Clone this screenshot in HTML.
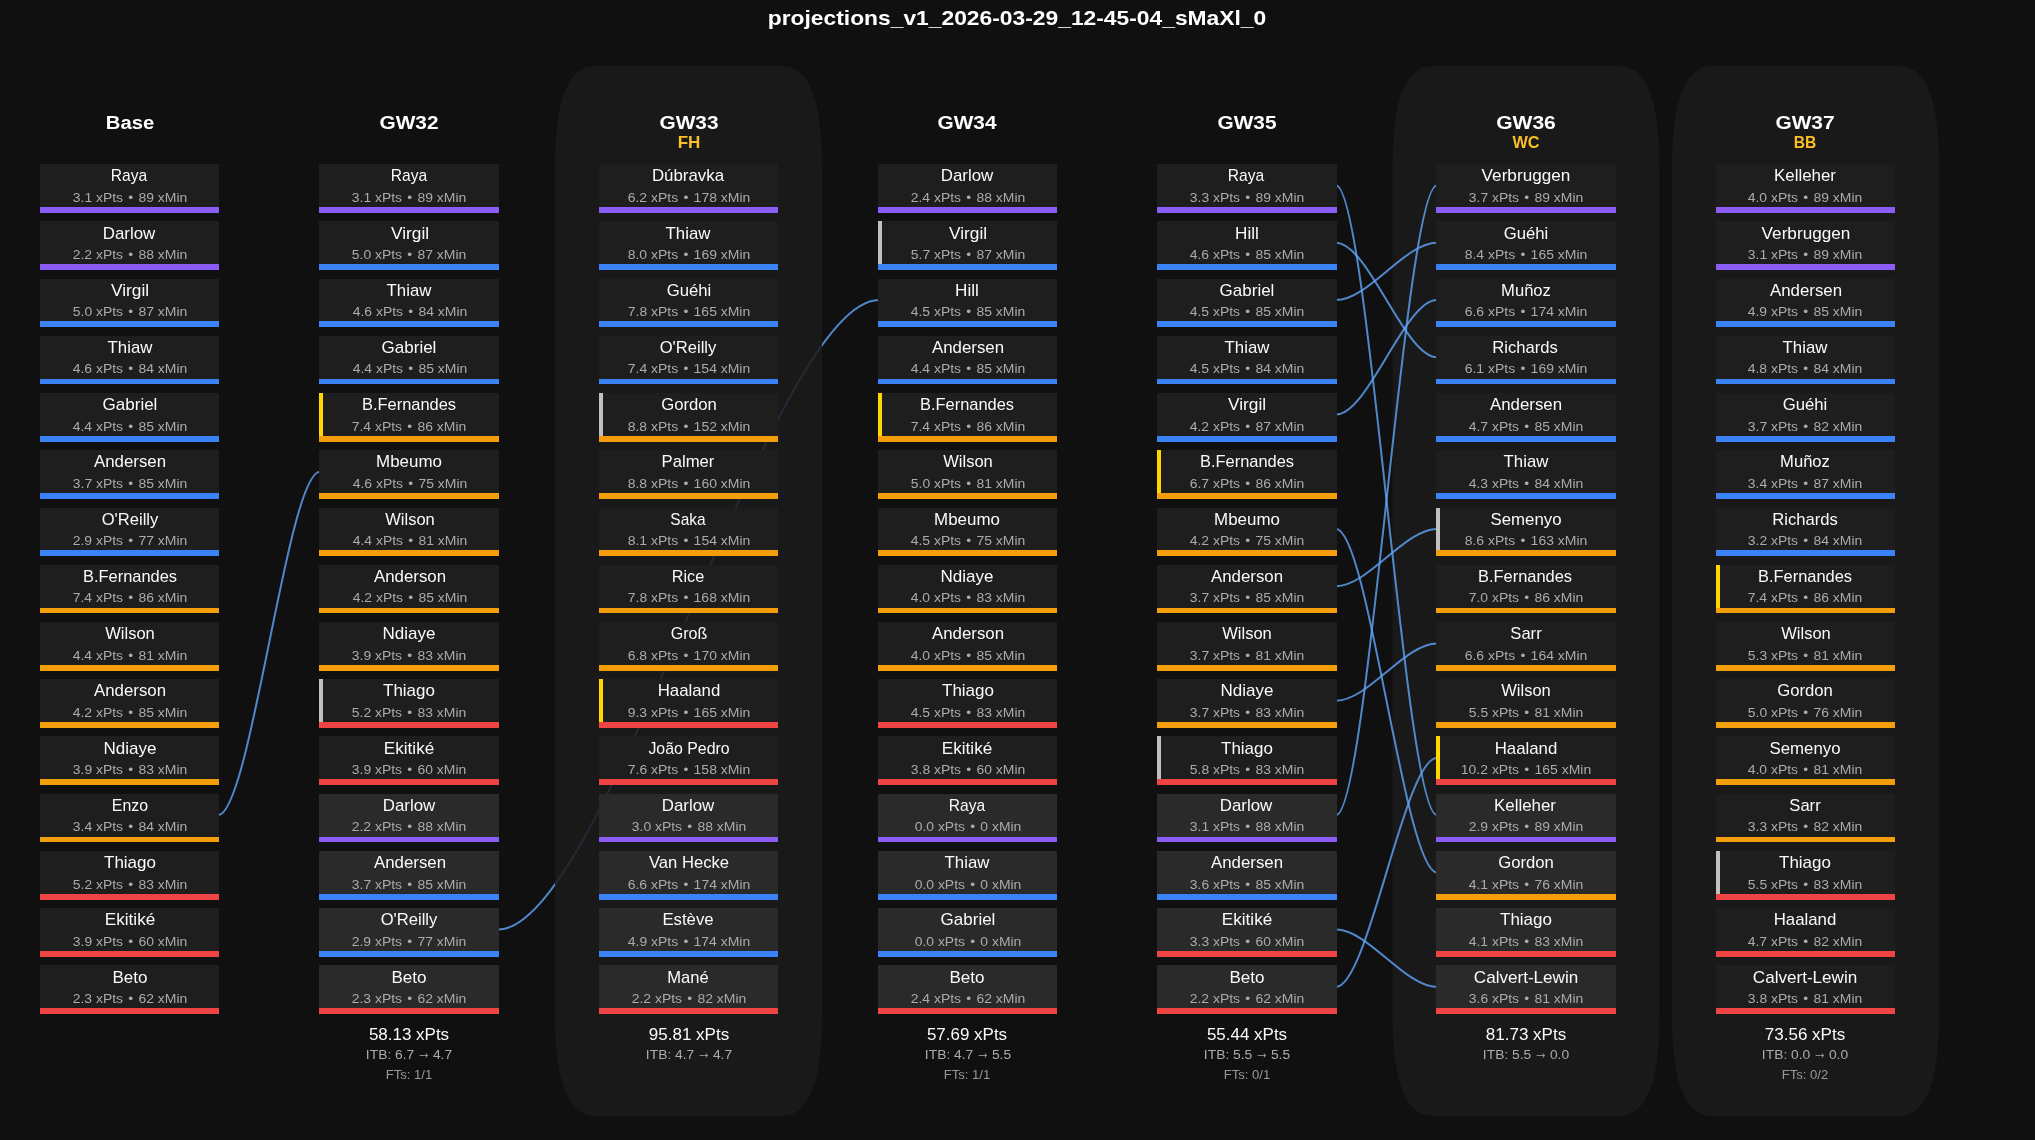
<!DOCTYPE html>
<html lang="en"><head><meta charset="utf-8"><title>projections_v1_2026-03-29_12-45-04_sMaXl_0</title>
<style>
html,body{margin:0;padding:0;background:#101010;}
body{width:2035px;height:1140px;overflow:hidden;font-family:"Liberation Sans",sans-serif;}
#fig{position:relative;width:2035px;height:1140px;background:#101010;overflow:hidden;}
svg.layer{position:absolute;left:0;top:0;}
#txt{position:absolute;left:0;top:0;width:2035px;height:1140px;will-change:transform;}
.t{position:absolute;white-space:nowrap;line-height:1;transform:translateX(-50%);}
.t>span{display:inline-block;transform-origin:50% 50%;}
.bu{margin:0 0.1em;}
.ar{display:inline-block;margin:0 -0.105em;transform:translateY(-0.15em) scale(1.02,1.45);}
.title{font-weight:bold;color:#ffffff;font-size:20.6px;}
.hdr{font-weight:bold;color:#ffffff;font-size:19.1px;}
.chip{font-weight:bold;color:#fbbf24;font-size:16.2px;}
.name{color:#fafafa;font-size:16.2px;}
.stat{color:#ababab;font-size:13.25px;}
.fx{color:#fafafa;font-size:16.2px;}
.fi{color:#ababab;font-size:13.25px;}
.ft{color:#999999;font-size:13.25px;}

</style></head><body><div id="fig">
<svg class="layer" width="2035" height="1140" viewBox="0 0 2035 1140">
<g fill="none" stroke="#60a5fa" stroke-opacity="0.8" stroke-width="2" stroke-linecap="butt">
<path d="M498.0 929.6 C605.9 929.6 771.1 300.1 879.0 300.1"/>
</g>
<g fill="#1b1b1b" fill-opacity="0.855">
<path d="M595.0 66.0 L782.0 66.0 Q822.0 66.0 822.0 166.0 L822.0 1016.0 Q822.0 1116.0 782.0 1116.0 L595.0 1116.0 Q555.0 1116.0 555.0 1016.0 L555.0 166.0 Q555.0 66.0 595.0 66.0 Z"/>
<path d="M1432.5 66.0 L1619.5 66.0 Q1659.5 66.0 1659.5 166.0 L1659.5 1016.0 Q1659.5 1116.0 1619.5 1116.0 L1432.5 1116.0 Q1392.5 1116.0 1392.5 1016.0 L1392.5 166.0 Q1392.5 66.0 1432.5 66.0 Z"/>
<path d="M1712.0 66.0 L1899.0 66.0 Q1939.0 66.0 1939.0 166.0 L1939.0 1016.0 Q1939.0 1116.0 1899.0 1116.0 L1712.0 1116.0 Q1672.0 1116.0 1672.0 1016.0 L1672.0 166.0 Q1672.0 66.0 1712.0 66.0 Z"/>
</g>
<g fill="none" stroke="#60a5fa" stroke-opacity="0.8" stroke-width="2" stroke-linecap="butt">
<path d="M218.0 815.2 C250.5 815.2 287.5 471.8 320.0 471.8"/>
<path d="M1336.0 185.6 C1368.3 185.6 1404.7 815.2 1437.0 815.2"/>
<path d="M1336.0 242.8 C1368.3 242.8 1404.7 357.3 1437.0 357.3"/>
<path d="M1336.0 300.1 C1368.3 300.1 1404.7 242.8 1437.0 242.8"/>
<path d="M1336.0 414.5 C1368.3 414.5 1404.7 300.1 1437.0 300.1"/>
<path d="M1336.0 529.0 C1368.3 529.0 1404.7 872.4 1437.0 872.4"/>
<path d="M1336.0 586.2 C1368.3 586.2 1404.7 529.0 1437.0 529.0"/>
<path d="M1336.0 700.7 C1368.3 700.7 1404.7 643.5 1437.0 643.5"/>
<path d="M1336.0 815.2 C1368.3 815.2 1404.7 185.6 1437.0 185.6"/>
<path d="M1336.0 929.6 C1368.3 929.6 1404.7 986.9 1437.0 986.9"/>
<path d="M1336.0 986.9 C1368.3 986.9 1404.7 757.9 1437.0 757.9"/>
</g></svg>
<svg class="layer" width="2035" height="1140" viewBox="0 0 2035 1140">
<rect x="40" y="164" width="179" height="49" fill="#1e1e1e"/>
<rect x="40" y="207" width="179" height="6" fill="#8b5cf6"/>
<rect x="40" y="221" width="179" height="49" fill="#1e1e1e"/>
<rect x="40" y="264" width="179" height="6" fill="#8b5cf6"/>
<rect x="40" y="279" width="179" height="48" fill="#1e1e1e"/>
<rect x="40" y="321" width="179" height="6" fill="#3b82f6"/>
<rect x="40" y="336" width="179" height="48" fill="#1e1e1e"/>
<rect x="40" y="379" width="179" height="5" fill="#3b82f6"/>
<rect x="40" y="393" width="179" height="49" fill="#1e1e1e"/>
<rect x="40" y="436" width="179" height="6" fill="#3b82f6"/>
<rect x="40" y="450" width="179" height="49" fill="#1e1e1e"/>
<rect x="40" y="493" width="179" height="6" fill="#3b82f6"/>
<rect x="40" y="508" width="179" height="48" fill="#1e1e1e"/>
<rect x="40" y="550" width="179" height="6" fill="#3b82f6"/>
<rect x="40" y="565" width="179" height="48" fill="#1e1e1e"/>
<rect x="40" y="608" width="179" height="5" fill="#f59e0b"/>
<rect x="40" y="622" width="179" height="49" fill="#1e1e1e"/>
<rect x="40" y="665" width="179" height="6" fill="#f59e0b"/>
<rect x="40" y="679" width="179" height="49" fill="#1e1e1e"/>
<rect x="40" y="722" width="179" height="6" fill="#f59e0b"/>
<rect x="40" y="736" width="179" height="49" fill="#1e1e1e"/>
<rect x="40" y="779" width="179" height="6" fill="#f59e0b"/>
<rect x="40" y="794" width="179" height="48" fill="#1e1e1e"/>
<rect x="40" y="837" width="179" height="5" fill="#f59e0b"/>
<rect x="40" y="851" width="179" height="49" fill="#1e1e1e"/>
<rect x="40" y="894" width="179" height="6" fill="#ef4444"/>
<rect x="40" y="908" width="179" height="49" fill="#1e1e1e"/>
<rect x="40" y="951" width="179" height="6" fill="#ef4444"/>
<rect x="40" y="965" width="179" height="49" fill="#1e1e1e"/>
<rect x="40" y="1008" width="179" height="6" fill="#ef4444"/>
<rect x="319" y="164" width="180" height="49" fill="#1e1e1e"/>
<rect x="319" y="207" width="180" height="6" fill="#8b5cf6"/>
<rect x="319" y="221" width="180" height="49" fill="#1e1e1e"/>
<rect x="319" y="264" width="180" height="6" fill="#3b82f6"/>
<rect x="319" y="279" width="180" height="48" fill="#1e1e1e"/>
<rect x="319" y="321" width="180" height="6" fill="#3b82f6"/>
<rect x="319" y="336" width="180" height="48" fill="#1e1e1e"/>
<rect x="319" y="379" width="180" height="5" fill="#3b82f6"/>
<rect x="319" y="393" width="180" height="49" fill="#1e1e1e"/>
<rect x="319" y="436" width="180" height="6" fill="#f59e0b"/>
<rect x="319" y="393" width="4" height="43" fill="#ffd700"/>
<rect x="319" y="450" width="180" height="49" fill="#1e1e1e"/>
<rect x="319" y="493" width="180" height="6" fill="#f59e0b"/>
<rect x="319" y="508" width="180" height="48" fill="#1e1e1e"/>
<rect x="319" y="550" width="180" height="6" fill="#f59e0b"/>
<rect x="319" y="565" width="180" height="48" fill="#1e1e1e"/>
<rect x="319" y="608" width="180" height="5" fill="#f59e0b"/>
<rect x="319" y="622" width="180" height="49" fill="#1e1e1e"/>
<rect x="319" y="665" width="180" height="6" fill="#f59e0b"/>
<rect x="319" y="679" width="180" height="49" fill="#1e1e1e"/>
<rect x="319" y="722" width="180" height="6" fill="#ef4444"/>
<rect x="319" y="679" width="4" height="43" fill="#c0c0c0"/>
<rect x="319" y="736" width="180" height="49" fill="#1e1e1e"/>
<rect x="319" y="779" width="180" height="6" fill="#ef4444"/>
<rect x="319" y="794" width="180" height="48" fill="#2a2a2a"/>
<rect x="319" y="837" width="180" height="5" fill="#8b5cf6"/>
<rect x="319" y="851" width="180" height="49" fill="#2a2a2a"/>
<rect x="319" y="894" width="180" height="6" fill="#3b82f6"/>
<rect x="319" y="908" width="180" height="49" fill="#2a2a2a"/>
<rect x="319" y="951" width="180" height="6" fill="#3b82f6"/>
<rect x="319" y="965" width="180" height="49" fill="#2a2a2a"/>
<rect x="319" y="1008" width="180" height="6" fill="#ef4444"/>
<rect x="599" y="164" width="179" height="49" fill="#1e1e1e"/>
<rect x="599" y="207" width="179" height="6" fill="#8b5cf6"/>
<rect x="599" y="221" width="179" height="49" fill="#1e1e1e"/>
<rect x="599" y="264" width="179" height="6" fill="#3b82f6"/>
<rect x="599" y="279" width="179" height="48" fill="#1e1e1e"/>
<rect x="599" y="321" width="179" height="6" fill="#3b82f6"/>
<rect x="599" y="336" width="179" height="48" fill="#1e1e1e"/>
<rect x="599" y="379" width="179" height="5" fill="#3b82f6"/>
<rect x="599" y="393" width="179" height="49" fill="#1e1e1e"/>
<rect x="599" y="436" width="179" height="6" fill="#f59e0b"/>
<rect x="599" y="393" width="4" height="43" fill="#c0c0c0"/>
<rect x="599" y="450" width="179" height="49" fill="#1e1e1e"/>
<rect x="599" y="493" width="179" height="6" fill="#f59e0b"/>
<rect x="599" y="508" width="179" height="48" fill="#1e1e1e"/>
<rect x="599" y="550" width="179" height="6" fill="#f59e0b"/>
<rect x="599" y="565" width="179" height="48" fill="#1e1e1e"/>
<rect x="599" y="608" width="179" height="5" fill="#f59e0b"/>
<rect x="599" y="622" width="179" height="49" fill="#1e1e1e"/>
<rect x="599" y="665" width="179" height="6" fill="#f59e0b"/>
<rect x="599" y="679" width="179" height="49" fill="#1e1e1e"/>
<rect x="599" y="722" width="179" height="6" fill="#ef4444"/>
<rect x="599" y="679" width="4" height="43" fill="#ffd700"/>
<rect x="599" y="736" width="179" height="49" fill="#1e1e1e"/>
<rect x="599" y="779" width="179" height="6" fill="#ef4444"/>
<rect x="599" y="794" width="179" height="48" fill="#2a2a2a"/>
<rect x="599" y="837" width="179" height="5" fill="#8b5cf6"/>
<rect x="599" y="851" width="179" height="49" fill="#2a2a2a"/>
<rect x="599" y="894" width="179" height="6" fill="#3b82f6"/>
<rect x="599" y="908" width="179" height="49" fill="#2a2a2a"/>
<rect x="599" y="951" width="179" height="6" fill="#3b82f6"/>
<rect x="599" y="965" width="179" height="49" fill="#2a2a2a"/>
<rect x="599" y="1008" width="179" height="6" fill="#ef4444"/>
<rect x="878" y="164" width="179" height="49" fill="#1e1e1e"/>
<rect x="878" y="207" width="179" height="6" fill="#8b5cf6"/>
<rect x="878" y="221" width="179" height="49" fill="#1e1e1e"/>
<rect x="878" y="264" width="179" height="6" fill="#3b82f6"/>
<rect x="878" y="221" width="4" height="43" fill="#c0c0c0"/>
<rect x="878" y="279" width="179" height="48" fill="#1e1e1e"/>
<rect x="878" y="321" width="179" height="6" fill="#3b82f6"/>
<rect x="878" y="336" width="179" height="48" fill="#1e1e1e"/>
<rect x="878" y="379" width="179" height="5" fill="#3b82f6"/>
<rect x="878" y="393" width="179" height="49" fill="#1e1e1e"/>
<rect x="878" y="436" width="179" height="6" fill="#f59e0b"/>
<rect x="878" y="393" width="4" height="43" fill="#ffd700"/>
<rect x="878" y="450" width="179" height="49" fill="#1e1e1e"/>
<rect x="878" y="493" width="179" height="6" fill="#f59e0b"/>
<rect x="878" y="508" width="179" height="48" fill="#1e1e1e"/>
<rect x="878" y="550" width="179" height="6" fill="#f59e0b"/>
<rect x="878" y="565" width="179" height="48" fill="#1e1e1e"/>
<rect x="878" y="608" width="179" height="5" fill="#f59e0b"/>
<rect x="878" y="622" width="179" height="49" fill="#1e1e1e"/>
<rect x="878" y="665" width="179" height="6" fill="#f59e0b"/>
<rect x="878" y="679" width="179" height="49" fill="#1e1e1e"/>
<rect x="878" y="722" width="179" height="6" fill="#ef4444"/>
<rect x="878" y="736" width="179" height="49" fill="#1e1e1e"/>
<rect x="878" y="779" width="179" height="6" fill="#ef4444"/>
<rect x="878" y="794" width="179" height="48" fill="#2a2a2a"/>
<rect x="878" y="837" width="179" height="5" fill="#8b5cf6"/>
<rect x="878" y="851" width="179" height="49" fill="#2a2a2a"/>
<rect x="878" y="894" width="179" height="6" fill="#3b82f6"/>
<rect x="878" y="908" width="179" height="49" fill="#2a2a2a"/>
<rect x="878" y="951" width="179" height="6" fill="#3b82f6"/>
<rect x="878" y="965" width="179" height="49" fill="#2a2a2a"/>
<rect x="878" y="1008" width="179" height="6" fill="#ef4444"/>
<rect x="1157" y="164" width="180" height="49" fill="#1e1e1e"/>
<rect x="1157" y="207" width="180" height="6" fill="#8b5cf6"/>
<rect x="1157" y="221" width="180" height="49" fill="#1e1e1e"/>
<rect x="1157" y="264" width="180" height="6" fill="#3b82f6"/>
<rect x="1157" y="279" width="180" height="48" fill="#1e1e1e"/>
<rect x="1157" y="321" width="180" height="6" fill="#3b82f6"/>
<rect x="1157" y="336" width="180" height="48" fill="#1e1e1e"/>
<rect x="1157" y="379" width="180" height="5" fill="#3b82f6"/>
<rect x="1157" y="393" width="180" height="49" fill="#1e1e1e"/>
<rect x="1157" y="436" width="180" height="6" fill="#3b82f6"/>
<rect x="1157" y="450" width="180" height="49" fill="#1e1e1e"/>
<rect x="1157" y="493" width="180" height="6" fill="#f59e0b"/>
<rect x="1157" y="450" width="4" height="43" fill="#ffd700"/>
<rect x="1157" y="508" width="180" height="48" fill="#1e1e1e"/>
<rect x="1157" y="550" width="180" height="6" fill="#f59e0b"/>
<rect x="1157" y="565" width="180" height="48" fill="#1e1e1e"/>
<rect x="1157" y="608" width="180" height="5" fill="#f59e0b"/>
<rect x="1157" y="622" width="180" height="49" fill="#1e1e1e"/>
<rect x="1157" y="665" width="180" height="6" fill="#f59e0b"/>
<rect x="1157" y="679" width="180" height="49" fill="#1e1e1e"/>
<rect x="1157" y="722" width="180" height="6" fill="#f59e0b"/>
<rect x="1157" y="736" width="180" height="49" fill="#1e1e1e"/>
<rect x="1157" y="779" width="180" height="6" fill="#ef4444"/>
<rect x="1157" y="736" width="4" height="43" fill="#c0c0c0"/>
<rect x="1157" y="794" width="180" height="48" fill="#2a2a2a"/>
<rect x="1157" y="837" width="180" height="5" fill="#8b5cf6"/>
<rect x="1157" y="851" width="180" height="49" fill="#2a2a2a"/>
<rect x="1157" y="894" width="180" height="6" fill="#3b82f6"/>
<rect x="1157" y="908" width="180" height="49" fill="#2a2a2a"/>
<rect x="1157" y="951" width="180" height="6" fill="#ef4444"/>
<rect x="1157" y="965" width="180" height="49" fill="#2a2a2a"/>
<rect x="1157" y="1008" width="180" height="6" fill="#ef4444"/>
<rect x="1436" y="164" width="180" height="49" fill="#1e1e1e"/>
<rect x="1436" y="207" width="180" height="6" fill="#8b5cf6"/>
<rect x="1436" y="221" width="180" height="49" fill="#1e1e1e"/>
<rect x="1436" y="264" width="180" height="6" fill="#3b82f6"/>
<rect x="1436" y="279" width="180" height="48" fill="#1e1e1e"/>
<rect x="1436" y="321" width="180" height="6" fill="#3b82f6"/>
<rect x="1436" y="336" width="180" height="48" fill="#1e1e1e"/>
<rect x="1436" y="379" width="180" height="5" fill="#3b82f6"/>
<rect x="1436" y="393" width="180" height="49" fill="#1e1e1e"/>
<rect x="1436" y="436" width="180" height="6" fill="#3b82f6"/>
<rect x="1436" y="450" width="180" height="49" fill="#1e1e1e"/>
<rect x="1436" y="493" width="180" height="6" fill="#3b82f6"/>
<rect x="1436" y="508" width="180" height="48" fill="#1e1e1e"/>
<rect x="1436" y="550" width="180" height="6" fill="#f59e0b"/>
<rect x="1436" y="508" width="4" height="42" fill="#c0c0c0"/>
<rect x="1436" y="565" width="180" height="48" fill="#1e1e1e"/>
<rect x="1436" y="608" width="180" height="5" fill="#f59e0b"/>
<rect x="1436" y="622" width="180" height="49" fill="#1e1e1e"/>
<rect x="1436" y="665" width="180" height="6" fill="#f59e0b"/>
<rect x="1436" y="679" width="180" height="49" fill="#1e1e1e"/>
<rect x="1436" y="722" width="180" height="6" fill="#f59e0b"/>
<rect x="1436" y="736" width="180" height="49" fill="#1e1e1e"/>
<rect x="1436" y="779" width="180" height="6" fill="#ef4444"/>
<rect x="1436" y="736" width="4" height="43" fill="#ffd700"/>
<rect x="1436" y="794" width="180" height="48" fill="#2a2a2a"/>
<rect x="1436" y="837" width="180" height="5" fill="#8b5cf6"/>
<rect x="1436" y="851" width="180" height="49" fill="#2a2a2a"/>
<rect x="1436" y="894" width="180" height="6" fill="#f59e0b"/>
<rect x="1436" y="908" width="180" height="49" fill="#2a2a2a"/>
<rect x="1436" y="951" width="180" height="6" fill="#ef4444"/>
<rect x="1436" y="965" width="180" height="49" fill="#2a2a2a"/>
<rect x="1436" y="1008" width="180" height="6" fill="#ef4444"/>
<rect x="1716" y="164" width="179" height="49" fill="#1e1e1e"/>
<rect x="1716" y="207" width="179" height="6" fill="#8b5cf6"/>
<rect x="1716" y="221" width="179" height="49" fill="#1e1e1e"/>
<rect x="1716" y="264" width="179" height="6" fill="#8b5cf6"/>
<rect x="1716" y="279" width="179" height="48" fill="#1e1e1e"/>
<rect x="1716" y="321" width="179" height="6" fill="#3b82f6"/>
<rect x="1716" y="336" width="179" height="48" fill="#1e1e1e"/>
<rect x="1716" y="379" width="179" height="5" fill="#3b82f6"/>
<rect x="1716" y="393" width="179" height="49" fill="#1e1e1e"/>
<rect x="1716" y="436" width="179" height="6" fill="#3b82f6"/>
<rect x="1716" y="450" width="179" height="49" fill="#1e1e1e"/>
<rect x="1716" y="493" width="179" height="6" fill="#3b82f6"/>
<rect x="1716" y="508" width="179" height="48" fill="#1e1e1e"/>
<rect x="1716" y="550" width="179" height="6" fill="#3b82f6"/>
<rect x="1716" y="565" width="179" height="48" fill="#1e1e1e"/>
<rect x="1716" y="608" width="179" height="5" fill="#f59e0b"/>
<rect x="1716" y="565" width="4" height="43" fill="#ffd700"/>
<rect x="1716" y="622" width="179" height="49" fill="#1e1e1e"/>
<rect x="1716" y="665" width="179" height="6" fill="#f59e0b"/>
<rect x="1716" y="679" width="179" height="49" fill="#1e1e1e"/>
<rect x="1716" y="722" width="179" height="6" fill="#f59e0b"/>
<rect x="1716" y="736" width="179" height="49" fill="#1e1e1e"/>
<rect x="1716" y="779" width="179" height="6" fill="#f59e0b"/>
<rect x="1716" y="794" width="179" height="48" fill="#1e1e1e"/>
<rect x="1716" y="837" width="179" height="5" fill="#f59e0b"/>
<rect x="1716" y="851" width="179" height="49" fill="#1e1e1e"/>
<rect x="1716" y="894" width="179" height="6" fill="#ef4444"/>
<rect x="1716" y="851" width="4" height="43" fill="#c0c0c0"/>
<rect x="1716" y="908" width="179" height="49" fill="#1e1e1e"/>
<rect x="1716" y="951" width="179" height="6" fill="#ef4444"/>
<rect x="1716" y="965" width="179" height="49" fill="#1e1e1e"/>
<rect x="1716" y="1008" width="179" height="6" fill="#ef4444"/>
</svg>
<div id="txt">
<div class="t title" style="left:1017.25px;top:7.56px;"><span style="transform:scaleX(1.1080)">projections_v1_2026-03-29_12-45-04_sMaXl_0</span></div>
<div class="t hdr" style="left:129.60px;top:112.83px;"><span style="transform:scaleX(1.0609)">Base</span></div>
<div class="t name" style="left:129.27px;top:167.29px;"><span style="transform:scaleX(0.9619)">Raya</span></div>
<div class="t stat" style="left:130.07px;top:190.78px;"><span style="transform:scaleX(1.0509)">3.1 xPts <span class="bu">•</span> 89 xMin</span></div>
<div class="t name" style="left:129.20px;top:225.29px;"><span style="transform:scaleX(1.0441)">Darlow</span></div>
<div class="t stat" style="left:130.01px;top:247.78px;"><span style="transform:scaleX(1.0522)">2.2 xPts <span class="bu">•</span> 88 xMin</span></div>
<div class="t name" style="left:130.42px;top:282.29px;"><span style="transform:scaleX(1.0690)">Virgil</span></div>
<div class="t stat" style="left:130.07px;top:304.78px;"><span style="transform:scaleX(1.0509)">5.0 xPts <span class="bu">•</span> 87 xMin</span></div>
<div class="t name" style="left:129.71px;top:339.29px;"><span style="transform:scaleX(1.0374)">Thiaw</span></div>
<div class="t stat" style="left:130.21px;top:361.78px;"><span style="transform:scaleX(1.0512)">4.6 xPts <span class="bu">•</span> 84 xMin</span></div>
<div class="t name" style="left:130.06px;top:396.29px;"><span style="transform:scaleX(1.0494)">Gabriel</span></div>
<div class="t stat" style="left:130.21px;top:419.78px;"><span style="transform:scaleX(1.0512)">4.4 xPts <span class="bu">•</span> 85 xMin</span></div>
<div class="t name" style="left:130.46px;top:453.29px;"><span style="transform:scaleX(1.0415)">Andersen</span></div>
<div class="t stat" style="left:130.07px;top:476.78px;"><span style="transform:scaleX(1.0509)">3.7 xPts <span class="bu">•</span> 85 xMin</span></div>
<div class="t name" style="left:129.52px;top:511.29px;"><span style="transform:scaleX(1.0256)">O'Reilly</span></div>
<div class="t stat" style="left:130.01px;top:533.78px;"><span style="transform:scaleX(1.0522)">2.9 xPts <span class="bu">•</span> 77 xMin</span></div>
<div class="t name" style="left:129.54px;top:568.29px;"><span style="transform:scaleX(1.0154)">B.Fernandes</span></div>
<div class="t stat" style="left:130.01px;top:590.78px;"><span style="transform:scaleX(1.0516)">7.4 xPts <span class="bu">•</span> 86 xMin</span></div>
<div class="t name" style="left:130.40px;top:625.29px;"><span style="transform:scaleX(1.0203)">Wilson</span></div>
<div class="t stat" style="left:130.21px;top:648.78px;"><span style="transform:scaleX(1.0512)">4.4 xPts <span class="bu">•</span> 81 xMin</span></div>
<div class="t name" style="left:130.46px;top:682.29px;"><span style="transform:scaleX(1.0404)">Anderson</span></div>
<div class="t stat" style="left:130.21px;top:705.78px;"><span style="transform:scaleX(1.0512)">4.2 xPts <span class="bu">•</span> 85 xMin</span></div>
<div class="t name" style="left:129.63px;top:740.29px;"><span style="transform:scaleX(1.0521)">Ndiaye</span></div>
<div class="t stat" style="left:130.07px;top:762.78px;"><span style="transform:scaleX(1.0509)">3.9 xPts <span class="bu">•</span> 83 xMin</span></div>
<div class="t name" style="left:129.58px;top:797.29px;"><span style="transform:scaleX(0.9824)">Enzo</span></div>
<div class="t stat" style="left:130.07px;top:819.78px;"><span style="transform:scaleX(1.0509)">3.4 xPts <span class="bu">•</span> 84 xMin</span></div>
<div class="t name" style="left:130.09px;top:854.29px;"><span style="transform:scaleX(1.0501)">Thiago</span></div>
<div class="t stat" style="left:130.07px;top:877.78px;"><span style="transform:scaleX(1.0509)">5.2 xPts <span class="bu">•</span> 83 xMin</span></div>
<div class="t name" style="left:129.60px;top:911.29px;"><span style="transform:scaleX(1.0585)">Ekitiké</span></div>
<div class="t stat" style="left:130.07px;top:934.78px;"><span style="transform:scaleX(1.0509)">3.9 xPts <span class="bu">•</span> 60 xMin</span></div>
<div class="t name" style="left:129.58px;top:969.29px;"><span style="transform:scaleX(1.0503)">Beto</span></div>
<div class="t stat" style="left:130.01px;top:991.78px;"><span style="transform:scaleX(1.0522)">2.3 xPts <span class="bu">•</span> 62 xMin</span></div>
<div class="t hdr" style="left:409.26px;top:112.83px;"><span style="transform:scaleX(1.0912)">GW32</span></div>
<div class="t name" style="left:408.64px;top:167.29px;"><span style="transform:scaleX(0.9619)">Raya</span></div>
<div class="t stat" style="left:409.44px;top:190.78px;"><span style="transform:scaleX(1.0509)">3.1 xPts <span class="bu">•</span> 89 xMin</span></div>
<div class="t name" style="left:409.79px;top:225.29px;"><span style="transform:scaleX(1.0690)">Virgil</span></div>
<div class="t stat" style="left:409.44px;top:247.78px;"><span style="transform:scaleX(1.0509)">5.0 xPts <span class="bu">•</span> 87 xMin</span></div>
<div class="t name" style="left:409.08px;top:282.29px;"><span style="transform:scaleX(1.0374)">Thiaw</span></div>
<div class="t stat" style="left:409.58px;top:304.78px;"><span style="transform:scaleX(1.0512)">4.6 xPts <span class="bu">•</span> 84 xMin</span></div>
<div class="t name" style="left:409.43px;top:339.29px;"><span style="transform:scaleX(1.0494)">Gabriel</span></div>
<div class="t stat" style="left:409.58px;top:361.78px;"><span style="transform:scaleX(1.0512)">4.4 xPts <span class="bu">•</span> 85 xMin</span></div>
<div class="t name" style="left:408.91px;top:396.29px;"><span style="transform:scaleX(1.0154)">B.Fernandes</span></div>
<div class="t stat" style="left:409.38px;top:419.78px;"><span style="transform:scaleX(1.0516)">7.4 xPts <span class="bu">•</span> 86 xMin</span></div>
<div class="t name" style="left:408.94px;top:453.29px;"><span style="transform:scaleX(1.0457)">Mbeumo</span></div>
<div class="t stat" style="left:409.58px;top:476.78px;"><span style="transform:scaleX(1.0512)">4.6 xPts <span class="bu">•</span> 75 xMin</span></div>
<div class="t name" style="left:409.77px;top:511.29px;"><span style="transform:scaleX(1.0203)">Wilson</span></div>
<div class="t stat" style="left:409.58px;top:533.78px;"><span style="transform:scaleX(1.0512)">4.4 xPts <span class="bu">•</span> 81 xMin</span></div>
<div class="t name" style="left:409.83px;top:568.29px;"><span style="transform:scaleX(1.0404)">Anderson</span></div>
<div class="t stat" style="left:409.58px;top:590.78px;"><span style="transform:scaleX(1.0512)">4.2 xPts <span class="bu">•</span> 85 xMin</span></div>
<div class="t name" style="left:409.00px;top:625.29px;"><span style="transform:scaleX(1.0521)">Ndiaye</span></div>
<div class="t stat" style="left:409.44px;top:648.78px;"><span style="transform:scaleX(1.0509)">3.9 xPts <span class="bu">•</span> 83 xMin</span></div>
<div class="t name" style="left:409.46px;top:682.29px;"><span style="transform:scaleX(1.0501)">Thiago</span></div>
<div class="t stat" style="left:409.44px;top:705.78px;"><span style="transform:scaleX(1.0509)">5.2 xPts <span class="bu">•</span> 83 xMin</span></div>
<div class="t name" style="left:408.97px;top:740.29px;"><span style="transform:scaleX(1.0585)">Ekitiké</span></div>
<div class="t stat" style="left:409.44px;top:762.78px;"><span style="transform:scaleX(1.0509)">3.9 xPts <span class="bu">•</span> 60 xMin</span></div>
<div class="t name" style="left:408.57px;top:797.29px;"><span style="transform:scaleX(1.0441)">Darlow</span></div>
<div class="t stat" style="left:409.38px;top:819.78px;"><span style="transform:scaleX(1.0522)">2.2 xPts <span class="bu">•</span> 88 xMin</span></div>
<div class="t name" style="left:409.83px;top:854.29px;"><span style="transform:scaleX(1.0415)">Andersen</span></div>
<div class="t stat" style="left:409.44px;top:877.78px;"><span style="transform:scaleX(1.0509)">3.7 xPts <span class="bu">•</span> 85 xMin</span></div>
<div class="t name" style="left:408.89px;top:911.29px;"><span style="transform:scaleX(1.0256)">O'Reilly</span></div>
<div class="t stat" style="left:409.38px;top:934.78px;"><span style="transform:scaleX(1.0522)">2.9 xPts <span class="bu">•</span> 77 xMin</span></div>
<div class="t name" style="left:408.95px;top:969.29px;"><span style="transform:scaleX(1.0503)">Beto</span></div>
<div class="t stat" style="left:409.38px;top:991.78px;"><span style="transform:scaleX(1.0522)">2.3 xPts <span class="bu">•</span> 62 xMin</span></div>
<div class="t fx" style="left:409.23px;top:1026.29px;"><span style="transform:scaleX(1.0485)">58.13 xPts</span></div>
<div class="t fi" style="left:409.27px;top:1047.78px;"><span style="transform:scaleX(1.0436)">ITB: 6.7 <span class="ar">→</span> 4.7</span></div>
<div class="t ft" style="left:409.05px;top:1067.78px;"><span style="transform:scaleX(0.9888)">FTs: 1/1</span></div>
<div class="t hdr" style="left:688.58px;top:112.83px;"><span style="transform:scaleX(1.0909)">GW33</span></div>
<div class="t chip" style="left:688.67px;top:134.29px;"><span style="transform:scaleX(1.0531)">FH</span></div>
<div class="t name" style="left:687.96px;top:167.29px;"><span style="transform:scaleX(1.0408)">Dúbravka</span></div>
<div class="t stat" style="left:688.75px;top:190.78px;"><span style="transform:scaleX(1.0545)">6.2 xPts <span class="bu">•</span> 178 xMin</span></div>
<div class="t name" style="left:688.45px;top:225.29px;"><span style="transform:scaleX(1.0374)">Thiaw</span></div>
<div class="t stat" style="left:688.79px;top:247.78px;"><span style="transform:scaleX(1.0544)">8.0 xPts <span class="bu">•</span> 169 xMin</span></div>
<div class="t name" style="left:688.79px;top:282.29px;"><span style="transform:scaleX(1.0318)">Guéhi</span></div>
<div class="t stat" style="left:688.75px;top:304.78px;"><span style="transform:scaleX(1.0534)">7.8 xPts <span class="bu">•</span> 165 xMin</span></div>
<div class="t name" style="left:688.26px;top:339.29px;"><span style="transform:scaleX(1.0256)">O'Reilly</span></div>
<div class="t stat" style="left:688.75px;top:361.78px;"><span style="transform:scaleX(1.0534)">7.4 xPts <span class="bu">•</span> 154 xMin</span></div>
<div class="t name" style="left:688.77px;top:396.29px;"><span style="transform:scaleX(1.0310)">Gordon</span></div>
<div class="t stat" style="left:688.79px;top:419.78px;"><span style="transform:scaleX(1.0544)">8.8 xPts <span class="bu">•</span> 152 xMin</span></div>
<div class="t name" style="left:688.12px;top:453.29px;"><span style="transform:scaleX(1.0291)">Palmer</span></div>
<div class="t stat" style="left:688.79px;top:476.78px;"><span style="transform:scaleX(1.0544)">8.8 xPts <span class="bu">•</span> 160 xMin</span></div>
<div class="t name" style="left:688.29px;top:511.29px;"><span style="transform:scaleX(0.9557)">Saka</span></div>
<div class="t stat" style="left:688.79px;top:533.78px;"><span style="transform:scaleX(1.0544)">8.1 xPts <span class="bu">•</span> 154 xMin</span></div>
<div class="t name" style="left:688.36px;top:568.29px;"><span style="transform:scaleX(1.0009)">Rice</span></div>
<div class="t stat" style="left:688.75px;top:590.78px;"><span style="transform:scaleX(1.0534)">7.8 xPts <span class="bu">•</span> 168 xMin</span></div>
<div class="t name" style="left:688.58px;top:625.29px;"><span style="transform:scaleX(0.9949)">Groß</span></div>
<div class="t stat" style="left:688.75px;top:648.78px;"><span style="transform:scaleX(1.0545)">6.8 xPts <span class="bu">•</span> 170 xMin</span></div>
<div class="t name" style="left:688.52px;top:682.29px;"><span style="transform:scaleX(1.0392)">Haaland</span></div>
<div class="t stat" style="left:688.79px;top:705.78px;"><span style="transform:scaleX(1.0544)">9.3 xPts <span class="bu">•</span> 165 xMin</span></div>
<div class="t name" style="left:688.84px;top:740.29px;"><span style="transform:scaleX(0.9813)">João Pedro</span></div>
<div class="t stat" style="left:688.75px;top:762.78px;"><span style="transform:scaleX(1.0534)">7.6 xPts <span class="bu">•</span> 158 xMin</span></div>
<div class="t name" style="left:687.94px;top:797.29px;"><span style="transform:scaleX(1.0441)">Darlow</span></div>
<div class="t stat" style="left:688.81px;top:819.78px;"><span style="transform:scaleX(1.0509)">3.0 xPts <span class="bu">•</span> 88 xMin</span></div>
<div class="t name" style="left:688.99px;top:854.29px;"><span style="transform:scaleX(1.0262)">Van Hecke</span></div>
<div class="t stat" style="left:688.75px;top:877.78px;"><span style="transform:scaleX(1.0545)">6.6 xPts <span class="bu">•</span> 174 xMin</span></div>
<div class="t name" style="left:688.36px;top:911.29px;"><span style="transform:scaleX(1.0348)">Estève</span></div>
<div class="t stat" style="left:688.96px;top:934.78px;"><span style="transform:scaleX(1.0530)">4.9 xPts <span class="bu">•</span> 174 xMin</span></div>
<div class="t name" style="left:688.36px;top:969.29px;"><span style="transform:scaleX(1.0225)">Mané</span></div>
<div class="t stat" style="left:688.75px;top:991.78px;"><span style="transform:scaleX(1.0522)">2.2 xPts <span class="bu">•</span> 82 xMin</span></div>
<div class="t fx" style="left:688.56px;top:1026.29px;"><span style="transform:scaleX(1.0517)">95.81 xPts</span></div>
<div class="t fi" style="left:688.64px;top:1047.78px;"><span style="transform:scaleX(1.0436)">ITB: 4.7 <span class="ar">→</span> 4.7</span></div>
<div class="t hdr" style="left:967.13px;top:112.83px;"><span style="transform:scaleX(1.0910)">GW34</span></div>
<div class="t name" style="left:966.81px;top:167.29px;"><span style="transform:scaleX(1.0441)">Darlow</span></div>
<div class="t stat" style="left:967.62px;top:190.78px;"><span style="transform:scaleX(1.0522)">2.4 xPts <span class="bu">•</span> 88 xMin</span></div>
<div class="t name" style="left:968.03px;top:225.29px;"><span style="transform:scaleX(1.0690)">Virgil</span></div>
<div class="t stat" style="left:967.68px;top:247.78px;"><span style="transform:scaleX(1.0509)">5.7 xPts <span class="bu">•</span> 87 xMin</span></div>
<div class="t name" style="left:967.41px;top:282.29px;"><span style="transform:scaleX(1.0610)">Hill</span></div>
<div class="t stat" style="left:967.82px;top:304.78px;"><span style="transform:scaleX(1.0512)">4.5 xPts <span class="bu">•</span> 85 xMin</span></div>
<div class="t name" style="left:968.07px;top:339.29px;"><span style="transform:scaleX(1.0415)">Andersen</span></div>
<div class="t stat" style="left:967.82px;top:361.78px;"><span style="transform:scaleX(1.0512)">4.4 xPts <span class="bu">•</span> 85 xMin</span></div>
<div class="t name" style="left:967.15px;top:396.29px;"><span style="transform:scaleX(1.0154)">B.Fernandes</span></div>
<div class="t stat" style="left:967.62px;top:419.78px;"><span style="transform:scaleX(1.0516)">7.4 xPts <span class="bu">•</span> 86 xMin</span></div>
<div class="t name" style="left:968.01px;top:453.29px;"><span style="transform:scaleX(1.0203)">Wilson</span></div>
<div class="t stat" style="left:967.68px;top:476.78px;"><span style="transform:scaleX(1.0509)">5.0 xPts <span class="bu">•</span> 81 xMin</span></div>
<div class="t name" style="left:967.18px;top:511.29px;"><span style="transform:scaleX(1.0457)">Mbeumo</span></div>
<div class="t stat" style="left:967.82px;top:533.78px;"><span style="transform:scaleX(1.0512)">4.5 xPts <span class="bu">•</span> 75 xMin</span></div>
<div class="t name" style="left:967.24px;top:568.29px;"><span style="transform:scaleX(1.0521)">Ndiaye</span></div>
<div class="t stat" style="left:967.82px;top:590.78px;"><span style="transform:scaleX(1.0512)">4.0 xPts <span class="bu">•</span> 83 xMin</span></div>
<div class="t name" style="left:968.07px;top:625.29px;"><span style="transform:scaleX(1.0404)">Anderson</span></div>
<div class="t stat" style="left:967.82px;top:648.78px;"><span style="transform:scaleX(1.0512)">4.0 xPts <span class="bu">•</span> 85 xMin</span></div>
<div class="t name" style="left:967.70px;top:682.29px;"><span style="transform:scaleX(1.0501)">Thiago</span></div>
<div class="t stat" style="left:967.82px;top:705.78px;"><span style="transform:scaleX(1.0512)">4.5 xPts <span class="bu">•</span> 83 xMin</span></div>
<div class="t name" style="left:967.21px;top:740.29px;"><span style="transform:scaleX(1.0585)">Ekitiké</span></div>
<div class="t stat" style="left:967.68px;top:762.78px;"><span style="transform:scaleX(1.0509)">3.8 xPts <span class="bu">•</span> 60 xMin</span></div>
<div class="t name" style="left:966.88px;top:797.29px;"><span style="transform:scaleX(0.9619)">Raya</span></div>
<div class="t stat" style="left:967.68px;top:819.78px;"><span style="transform:scaleX(1.0501)">0.0 xPts <span class="bu">•</span> 0 xMin</span></div>
<div class="t name" style="left:967.32px;top:854.29px;"><span style="transform:scaleX(1.0374)">Thiaw</span></div>
<div class="t stat" style="left:967.68px;top:877.78px;"><span style="transform:scaleX(1.0501)">0.0 xPts <span class="bu">•</span> 0 xMin</span></div>
<div class="t name" style="left:967.67px;top:911.29px;"><span style="transform:scaleX(1.0494)">Gabriel</span></div>
<div class="t stat" style="left:967.68px;top:934.78px;"><span style="transform:scaleX(1.0501)">0.0 xPts <span class="bu">•</span> 0 xMin</span></div>
<div class="t name" style="left:967.19px;top:969.29px;"><span style="transform:scaleX(1.0503)">Beto</span></div>
<div class="t stat" style="left:967.62px;top:991.78px;"><span style="transform:scaleX(1.0522)">2.4 xPts <span class="bu">•</span> 62 xMin</span></div>
<div class="t fx" style="left:967.47px;top:1026.29px;"><span style="transform:scaleX(1.0485)">57.69 xPts</span></div>
<div class="t fi" style="left:967.51px;top:1047.78px;"><span style="transform:scaleX(1.0436)">ITB: 4.7 <span class="ar">→</span> 5.5</span></div>
<div class="t ft" style="left:967.29px;top:1067.78px;"><span style="transform:scaleX(0.9888)">FTs: 1/1</span></div>
<div class="t hdr" style="left:1246.71px;top:112.83px;"><span style="transform:scaleX(1.0904)">GW35</span></div>
<div class="t name" style="left:1246.25px;top:167.29px;"><span style="transform:scaleX(0.9619)">Raya</span></div>
<div class="t stat" style="left:1247.05px;top:190.78px;"><span style="transform:scaleX(1.0509)">3.3 xPts <span class="bu">•</span> 89 xMin</span></div>
<div class="t name" style="left:1246.78px;top:225.29px;"><span style="transform:scaleX(1.0610)">Hill</span></div>
<div class="t stat" style="left:1247.19px;top:247.78px;"><span style="transform:scaleX(1.0512)">4.6 xPts <span class="bu">•</span> 85 xMin</span></div>
<div class="t name" style="left:1247.04px;top:282.29px;"><span style="transform:scaleX(1.0494)">Gabriel</span></div>
<div class="t stat" style="left:1247.19px;top:304.78px;"><span style="transform:scaleX(1.0512)">4.5 xPts <span class="bu">•</span> 85 xMin</span></div>
<div class="t name" style="left:1246.69px;top:339.29px;"><span style="transform:scaleX(1.0374)">Thiaw</span></div>
<div class="t stat" style="left:1247.19px;top:361.78px;"><span style="transform:scaleX(1.0512)">4.5 xPts <span class="bu">•</span> 84 xMin</span></div>
<div class="t name" style="left:1247.40px;top:396.29px;"><span style="transform:scaleX(1.0690)">Virgil</span></div>
<div class="t stat" style="left:1247.19px;top:419.78px;"><span style="transform:scaleX(1.0512)">4.2 xPts <span class="bu">•</span> 87 xMin</span></div>
<div class="t name" style="left:1246.52px;top:453.29px;"><span style="transform:scaleX(1.0154)">B.Fernandes</span></div>
<div class="t stat" style="left:1246.99px;top:476.78px;"><span style="transform:scaleX(1.0528)">6.7 xPts <span class="bu">•</span> 86 xMin</span></div>
<div class="t name" style="left:1246.55px;top:511.29px;"><span style="transform:scaleX(1.0457)">Mbeumo</span></div>
<div class="t stat" style="left:1247.19px;top:533.78px;"><span style="transform:scaleX(1.0512)">4.2 xPts <span class="bu">•</span> 75 xMin</span></div>
<div class="t name" style="left:1247.44px;top:568.29px;"><span style="transform:scaleX(1.0404)">Anderson</span></div>
<div class="t stat" style="left:1247.05px;top:590.78px;"><span style="transform:scaleX(1.0509)">3.7 xPts <span class="bu">•</span> 85 xMin</span></div>
<div class="t name" style="left:1247.38px;top:625.29px;"><span style="transform:scaleX(1.0203)">Wilson</span></div>
<div class="t stat" style="left:1247.05px;top:648.78px;"><span style="transform:scaleX(1.0509)">3.7 xPts <span class="bu">•</span> 81 xMin</span></div>
<div class="t name" style="left:1246.61px;top:682.29px;"><span style="transform:scaleX(1.0521)">Ndiaye</span></div>
<div class="t stat" style="left:1247.05px;top:705.78px;"><span style="transform:scaleX(1.0509)">3.7 xPts <span class="bu">•</span> 83 xMin</span></div>
<div class="t name" style="left:1247.07px;top:740.29px;"><span style="transform:scaleX(1.0501)">Thiago</span></div>
<div class="t stat" style="left:1247.05px;top:762.78px;"><span style="transform:scaleX(1.0509)">5.8 xPts <span class="bu">•</span> 83 xMin</span></div>
<div class="t name" style="left:1246.18px;top:797.29px;"><span style="transform:scaleX(1.0441)">Darlow</span></div>
<div class="t stat" style="left:1247.05px;top:819.78px;"><span style="transform:scaleX(1.0509)">3.1 xPts <span class="bu">•</span> 88 xMin</span></div>
<div class="t name" style="left:1247.44px;top:854.29px;"><span style="transform:scaleX(1.0415)">Andersen</span></div>
<div class="t stat" style="left:1247.05px;top:877.78px;"><span style="transform:scaleX(1.0509)">3.6 xPts <span class="bu">•</span> 85 xMin</span></div>
<div class="t name" style="left:1246.58px;top:911.29px;"><span style="transform:scaleX(1.0585)">Ekitiké</span></div>
<div class="t stat" style="left:1247.05px;top:934.78px;"><span style="transform:scaleX(1.0509)">3.3 xPts <span class="bu">•</span> 60 xMin</span></div>
<div class="t name" style="left:1246.56px;top:969.29px;"><span style="transform:scaleX(1.0503)">Beto</span></div>
<div class="t stat" style="left:1246.99px;top:991.78px;"><span style="transform:scaleX(1.0522)">2.2 xPts <span class="bu">•</span> 62 xMin</span></div>
<div class="t fx" style="left:1246.84px;top:1026.29px;"><span style="transform:scaleX(1.0485)">55.44 xPts</span></div>
<div class="t fi" style="left:1246.88px;top:1047.78px;"><span style="transform:scaleX(1.0436)">ITB: 5.5 <span class="ar">→</span> 5.5</span></div>
<div class="t ft" style="left:1246.66px;top:1067.78px;"><span style="transform:scaleX(0.9888)">FTs: 0/1</span></div>
<div class="t hdr" style="left:1525.69px;top:112.83px;"><span style="transform:scaleX(1.1012)">GW36</span></div>
<div class="t chip" style="left:1525.96px;top:134.29px;"><span style="transform:scaleX(1.0035)">WC</span></div>
<div class="t name" style="left:1526.28px;top:167.29px;"><span style="transform:scaleX(1.0605)">Verbruggen</span></div>
<div class="t stat" style="left:1525.92px;top:190.78px;"><span style="transform:scaleX(1.0509)">3.7 xPts <span class="bu">•</span> 89 xMin</span></div>
<div class="t name" style="left:1525.90px;top:225.29px;"><span style="transform:scaleX(1.0318)">Guéhi</span></div>
<div class="t stat" style="left:1525.90px;top:247.78px;"><span style="transform:scaleX(1.0544)">8.4 xPts <span class="bu">•</span> 165 xMin</span></div>
<div class="t name" style="left:1525.51px;top:282.29px;"><span style="transform:scaleX(1.0252)">Muñoz</span></div>
<div class="t stat" style="left:1525.86px;top:304.78px;"><span style="transform:scaleX(1.0545)">6.6 xPts <span class="bu">•</span> 174 xMin</span></div>
<div class="t name" style="left:1525.38px;top:339.29px;"><span style="transform:scaleX(1.0280)">Richards</span></div>
<div class="t stat" style="left:1525.86px;top:361.78px;"><span style="transform:scaleX(1.0545)">6.1 xPts <span class="bu">•</span> 169 xMin</span></div>
<div class="t name" style="left:1526.31px;top:396.29px;"><span style="transform:scaleX(1.0415)">Andersen</span></div>
<div class="t stat" style="left:1526.06px;top:419.78px;"><span style="transform:scaleX(1.0512)">4.7 xPts <span class="bu">•</span> 85 xMin</span></div>
<div class="t name" style="left:1525.56px;top:453.29px;"><span style="transform:scaleX(1.0374)">Thiaw</span></div>
<div class="t stat" style="left:1526.06px;top:476.78px;"><span style="transform:scaleX(1.0512)">4.3 xPts <span class="bu">•</span> 84 xMin</span></div>
<div class="t name" style="left:1525.71px;top:511.29px;"><span style="transform:scaleX(1.0388)">Semenyo</span></div>
<div class="t stat" style="left:1525.90px;top:533.78px;"><span style="transform:scaleX(1.0544)">8.6 xPts <span class="bu">•</span> 163 xMin</span></div>
<div class="t name" style="left:1525.39px;top:568.29px;"><span style="transform:scaleX(1.0154)">B.Fernandes</span></div>
<div class="t stat" style="left:1525.86px;top:590.78px;"><span style="transform:scaleX(1.0516)">7.0 xPts <span class="bu">•</span> 86 xMin</span></div>
<div class="t name" style="left:1525.54px;top:625.29px;"><span style="transform:scaleX(1.0258)">Sarr</span></div>
<div class="t stat" style="left:1525.86px;top:648.78px;"><span style="transform:scaleX(1.0545)">6.6 xPts <span class="bu">•</span> 164 xMin</span></div>
<div class="t name" style="left:1526.25px;top:682.29px;"><span style="transform:scaleX(1.0203)">Wilson</span></div>
<div class="t stat" style="left:1525.92px;top:705.78px;"><span style="transform:scaleX(1.0509)">5.5 xPts <span class="bu">•</span> 81 xMin</span></div>
<div class="t name" style="left:1525.63px;top:740.29px;"><span style="transform:scaleX(1.0392)">Haaland</span></div>
<div class="t stat" style="left:1525.70px;top:762.78px;"><span style="transform:scaleX(1.0548)">10.2 xPts <span class="bu">•</span> 165 xMin</span></div>
<div class="t name" style="left:1525.24px;top:797.29px;"><span style="transform:scaleX(1.0435)">Kelleher</span></div>
<div class="t stat" style="left:1525.86px;top:819.78px;"><span style="transform:scaleX(1.0522)">2.9 xPts <span class="bu">•</span> 89 xMin</span></div>
<div class="t name" style="left:1525.88px;top:854.29px;"><span style="transform:scaleX(1.0310)">Gordon</span></div>
<div class="t stat" style="left:1526.06px;top:877.78px;"><span style="transform:scaleX(1.0512)">4.1 xPts <span class="bu">•</span> 76 xMin</span></div>
<div class="t name" style="left:1525.94px;top:911.29px;"><span style="transform:scaleX(1.0501)">Thiago</span></div>
<div class="t stat" style="left:1526.06px;top:934.78px;"><span style="transform:scaleX(1.0512)">4.1 xPts <span class="bu">•</span> 83 xMin</span></div>
<div class="t name" style="left:1525.91px;top:969.29px;"><span style="transform:scaleX(1.0548)">Calvert-Lewin</span></div>
<div class="t stat" style="left:1525.92px;top:991.78px;"><span style="transform:scaleX(1.0509)">3.6 xPts <span class="bu">•</span> 81 xMin</span></div>
<div class="t fx" style="left:1525.67px;top:1026.29px;"><span style="transform:scaleX(1.0517)">81.73 xPts</span></div>
<div class="t fi" style="left:1525.75px;top:1047.78px;"><span style="transform:scaleX(1.0436)">ITB: 5.5 <span class="ar">→</span> 0.0</span></div>
<div class="t hdr" style="left:1805.11px;top:112.83px;"><span style="transform:scaleX(1.0929)">GW37</span></div>
<div class="t chip" style="left:1805.00px;top:134.29px;"><span style="transform:scaleX(0.9644)">BB</span></div>
<div class="t name" style="left:1804.61px;top:167.29px;"><span style="transform:scaleX(1.0435)">Kelleher</span></div>
<div class="t stat" style="left:1805.43px;top:190.78px;"><span style="transform:scaleX(1.0512)">4.0 xPts <span class="bu">•</span> 89 xMin</span></div>
<div class="t name" style="left:1805.65px;top:225.29px;"><span style="transform:scaleX(1.0605)">Verbruggen</span></div>
<div class="t stat" style="left:1805.29px;top:247.78px;"><span style="transform:scaleX(1.0509)">3.1 xPts <span class="bu">•</span> 89 xMin</span></div>
<div class="t name" style="left:1805.68px;top:282.29px;"><span style="transform:scaleX(1.0415)">Andersen</span></div>
<div class="t stat" style="left:1805.43px;top:304.78px;"><span style="transform:scaleX(1.0512)">4.9 xPts <span class="bu">•</span> 85 xMin</span></div>
<div class="t name" style="left:1804.93px;top:339.29px;"><span style="transform:scaleX(1.0374)">Thiaw</span></div>
<div class="t stat" style="left:1805.43px;top:361.78px;"><span style="transform:scaleX(1.0512)">4.8 xPts <span class="bu">•</span> 84 xMin</span></div>
<div class="t name" style="left:1805.27px;top:396.29px;"><span style="transform:scaleX(1.0318)">Guéhi</span></div>
<div class="t stat" style="left:1805.29px;top:419.78px;"><span style="transform:scaleX(1.0509)">3.7 xPts <span class="bu">•</span> 82 xMin</span></div>
<div class="t name" style="left:1804.88px;top:453.29px;"><span style="transform:scaleX(1.0252)">Muñoz</span></div>
<div class="t stat" style="left:1805.29px;top:476.78px;"><span style="transform:scaleX(1.0509)">3.4 xPts <span class="bu">•</span> 87 xMin</span></div>
<div class="t name" style="left:1804.75px;top:511.29px;"><span style="transform:scaleX(1.0280)">Richards</span></div>
<div class="t stat" style="left:1805.29px;top:533.78px;"><span style="transform:scaleX(1.0509)">3.2 xPts <span class="bu">•</span> 84 xMin</span></div>
<div class="t name" style="left:1804.76px;top:568.29px;"><span style="transform:scaleX(1.0154)">B.Fernandes</span></div>
<div class="t stat" style="left:1805.23px;top:590.78px;"><span style="transform:scaleX(1.0516)">7.4 xPts <span class="bu">•</span> 86 xMin</span></div>
<div class="t name" style="left:1805.62px;top:625.29px;"><span style="transform:scaleX(1.0203)">Wilson</span></div>
<div class="t stat" style="left:1805.29px;top:648.78px;"><span style="transform:scaleX(1.0509)">5.3 xPts <span class="bu">•</span> 81 xMin</span></div>
<div class="t name" style="left:1805.25px;top:682.29px;"><span style="transform:scaleX(1.0310)">Gordon</span></div>
<div class="t stat" style="left:1805.29px;top:705.78px;"><span style="transform:scaleX(1.0509)">5.0 xPts <span class="bu">•</span> 76 xMin</span></div>
<div class="t name" style="left:1805.08px;top:740.29px;"><span style="transform:scaleX(1.0388)">Semenyo</span></div>
<div class="t stat" style="left:1805.43px;top:762.78px;"><span style="transform:scaleX(1.0512)">4.0 xPts <span class="bu">•</span> 81 xMin</span></div>
<div class="t name" style="left:1804.91px;top:797.29px;"><span style="transform:scaleX(1.0258)">Sarr</span></div>
<div class="t stat" style="left:1805.29px;top:819.78px;"><span style="transform:scaleX(1.0509)">3.3 xPts <span class="bu">•</span> 82 xMin</span></div>
<div class="t name" style="left:1805.31px;top:854.29px;"><span style="transform:scaleX(1.0501)">Thiago</span></div>
<div class="t stat" style="left:1805.29px;top:877.78px;"><span style="transform:scaleX(1.0509)">5.5 xPts <span class="bu">•</span> 83 xMin</span></div>
<div class="t name" style="left:1805.00px;top:911.29px;"><span style="transform:scaleX(1.0392)">Haaland</span></div>
<div class="t stat" style="left:1805.43px;top:934.78px;"><span style="transform:scaleX(1.0512)">4.7 xPts <span class="bu">•</span> 82 xMin</span></div>
<div class="t name" style="left:1805.28px;top:969.29px;"><span style="transform:scaleX(1.0548)">Calvert-Lewin</span></div>
<div class="t stat" style="left:1805.29px;top:991.78px;"><span style="transform:scaleX(1.0509)">3.8 xPts <span class="bu">•</span> 81 xMin</span></div>
<div class="t fx" style="left:1804.99px;top:1026.29px;"><span style="transform:scaleX(1.0498)">73.56 xPts</span></div>
<div class="t fi" style="left:1805.12px;top:1047.78px;"><span style="transform:scaleX(1.0436)">ITB: 0.0 <span class="ar">→</span> 0.0</span></div>
<div class="t ft" style="left:1804.93px;top:1067.78px;"><span style="transform:scaleX(0.9875)">FTs: 0/2</span></div>
</div>
</div></body></html>
